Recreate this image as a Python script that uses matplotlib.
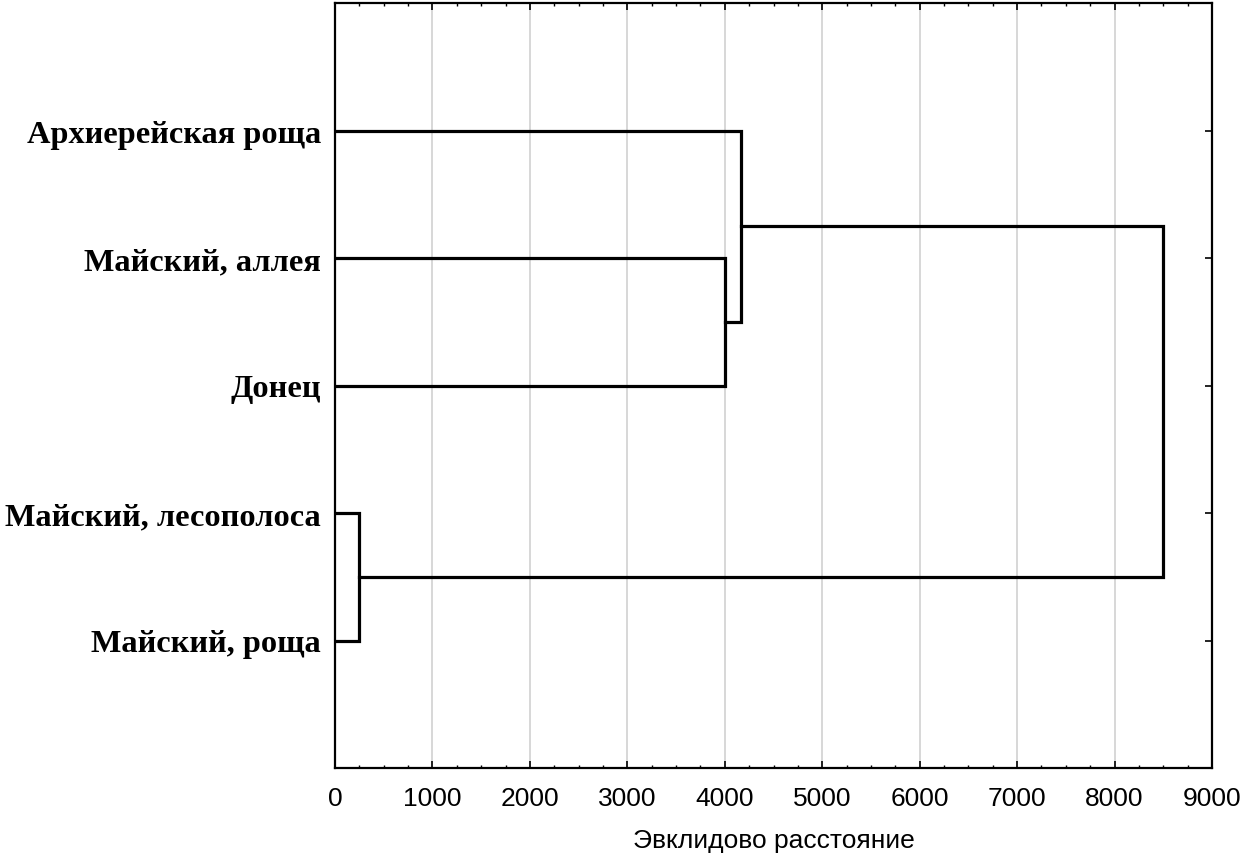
import matplotlib
matplotlib.use("Agg")
import matplotlib.pyplot as plt
from matplotlib.ticker import MultipleLocator

# Leaves, top to bottom
labels = ['Архиерейская роща', 'Майский, аллея', 'Донец',
          'Майский, лесополоса', 'Майский, роща']
# Merges: (left member, right member, distance); members are leaf names or merge indices "c0", "c1"...
merge_a = ['Майский, лесополоса', 'Майский, аллея', 'Архиерейская роща', 'c2']
merge_b = ['Майский, роща', 'Донец', 'c1', 'c0']
merge_h = [250, 4000, 4170, 8500]
xticks = [0, 1000, 2000, 3000, 4000, 5000, 6000, 7000, 8000, 9000]
xlabel = 'Эвклидово расстояние'

fig = plt.figure(figsize=(12.45, 8.54), dpi=100)
ax = fig.add_axes([335/1245, 1-769/854, (1212-335)/1245, (769-4)/854])

pos = {name: i + 1 for i, name in enumerate(labels)}
height = {name: 0.0 for name in labels}
for i, (a, b, h) in enumerate(zip(merge_a, merge_b, merge_h)):
    ya, yb = pos[a], pos[b]
    xa, xb = height[a], height[b]
    ax.plot([xa, h, h, xb], [ya, ya, yb, yb], color='black', lw=2.3,
            solid_joinstyle='miter', zorder=3)
    pos[f'c{i}'] = (ya + yb) / 2
    height[f'c{i}'] = h

ax.set_xlim(0, 9000)
ax.set_ylim(len(labels) + 1, 0)
ax.set_xticks(xticks)
ax.xaxis.set_minor_locator(MultipleLocator(250))
ax.set_yticks(range(1, len(labels) + 1))
ax.set_yticklabels(labels, family='Liberation Serif', fontweight='bold', fontsize=23.3)
ax.set_xticklabels([str(t) for t in xticks], family='Liberation Sans', fontsize=19)
ax.set_xlabel(xlabel, family='Liberation Sans', fontsize=19, labelpad=13)

ax.grid(axis='x', which='major', color='#d4d4d4', lw=1.3, zorder=0)
ax.tick_params(axis='both', which='major', direction='in', length=5, width=1.2,
               top=True, right=True, colors='black')
ax.tick_params(axis='x', which='minor', direction='in', length=2.5, width=1,
               top=True, bottom=True)
ax.tick_params(axis='x', pad=13)
ax.tick_params(axis='y', pad=10)
for s in ax.spines.values():
    s.set_linewidth(1.6)
    s.set_color('black')

fig.savefig('out.png', dpi=100)
